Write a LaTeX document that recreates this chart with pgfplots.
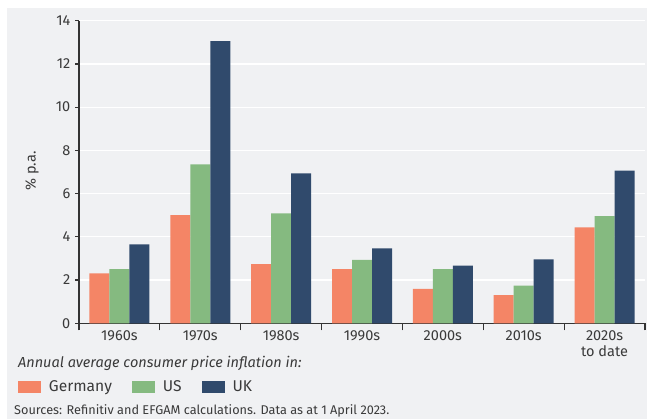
\documentclass[border=0pt]{standalone}
\usepackage{pgfplots}
\pgfplotsset{compat=1.18}
\usepackage{fontspec}
\setmainfont{Fira Sans}
\definecolor{bg}{HTML}{F0F1F3}
\definecolor{de}{HTML}{F48566}
\definecolor{us}{HTML}{85BA80}
\definecolor{uk}{HTML}{304A6C}
\definecolor{txt}{HTML}{3A3A3A}
\definecolor{axc}{HTML}{333333}
\begin{document}
\begin{tikzpicture}
\useasboundingbox (0bp,0bp) rectangle (648bp,419bp);
\fill[white] (0bp,0bp) rectangle (648bp,419bp);
\fill[bg] (7bp,0bp) rectangle (647bp,411bp);
\begin{axis}[
  at={(79bp,95.7bp)}, anchor=south west,
  scale only axis, width=566bp, height=302.6bp,
  ybar=0pt, bar width=20bp,
  xmin=-0.5, xmax=6.5, ymin=0, ymax=14,
  ytick={0,2,...,14},
  xtick={0,...,6},
  xticklabels={1960s,1970s,1980s,1990s,2000s,2010s,{2020s\\to date}},
  /pgf/number format/assume math mode=true,
  axis x line*=bottom, axis y line*=left,
  axis line style={draw=axc, line width=1.2bp},
  ymajorgrids, grid style={draw=white, line width=1.2bp},
  tick align=outside, major tick length=3.5bp,
  tick style={draw=axc, line width=1.2bp},
  major x tick style={draw=none},
  extra x ticks={-0.5,0.5,...,6.5}, extra x tick labels={},
  extra x tick style={major tick length=7bp, major x tick style={draw=axc, line width=1.2bp}, ymajorgrids=false},
  x tick label style={align=center, font=\fontsize{14.5bp}{16bp}\selectfont, text=txt, inner sep=0pt, anchor=north, yshift=-4bp},
  y tick label style={font=\fontsize{14.5bp}{16bp}\selectfont, text=txt, inner sep=0pt, anchor=east, xshift=-5bp},
  ylabel={\% p.a.},
  ylabel style={at={(axis description cs:-0.083,0.503)}, anchor=center, font=\fontsize{14.5bp}{16bp}\selectfont, text=txt},
  legend entries={Germany,US,UK},
  legend columns=3,
  legend image code/.code={\fill[#1] (0bp,-6bp) rectangle (23bp,6bp);},
  legend style={at={(axis description cs:-0.1078,-0.2105)}, anchor=west, draw=none, fill=none,
    inner sep=0pt, outer sep=0pt, font=\fontsize{15.6bp}{18bp}\selectfont, text=txt,
    nodes={inner sep=0pt, text=txt, anchor=west},
    /tikz/every odd column/.append style={column sep=8bp},
    /tikz/every even column/.append style={column sep=20bp}},
]
\addplot[fill=de, draw=none] coordinates {(0,2.31) (1,5.00) (2,2.74) (3,2.51) (4,1.59) (5,1.30) (6,4.44)};
\addplot[fill=us, draw=none] coordinates {(0,2.51) (1,7.35) (2,5.09) (3,2.93) (4,2.51) (5,1.74) (6,4.96)};
\addplot[fill=uk, draw=none] coordinates {(0,3.65) (1,13.06) (2,6.94) (3,3.47) (4,2.67) (5,2.96) (6,7.06)};
\end{axis}
\node[anchor=base west, inner sep=0pt, font=\itshape\fontsize{14.5bp}{17bp}\selectfont, text=txt] at (18bp,51bp) {Annual average consumer price inflation in:};
\node[anchor=base west, inner sep=0pt, font=\fontsize{12.7bp}{14bp}\selectfont, text=txt] at (14bp,5bp) {Sources: Refinitiv and EFGAM calculations. Data as at 1 April 2023.};
\end{tikzpicture}
\end{document}
